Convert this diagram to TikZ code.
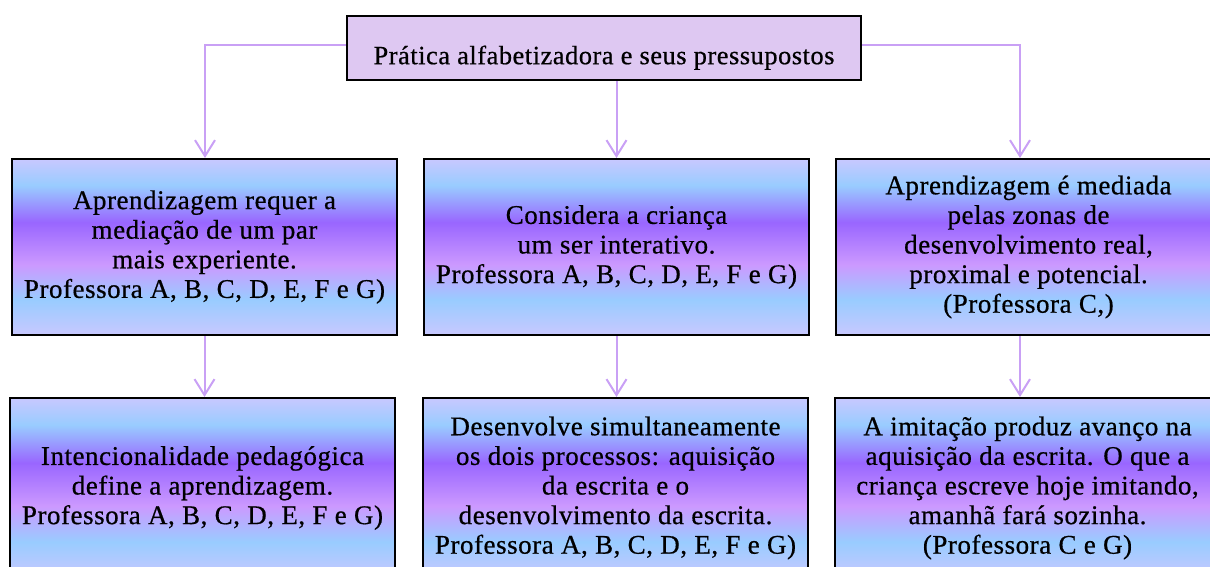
\documentclass[tikz,border=0pt]{standalone}
\usepackage{fontspec}
\setmainfont{Liberation Serif}[LetterSpace=2,FakeBold=0.6]
\usetikzlibrary{arrows.meta}
\definecolor{boxlav}{RGB}{200,200,255}
\definecolor{boxsky}{RGB}{153,204,255}
\definecolor{boxpurple}{RGB}{153,102,255}
\definecolor{boxviolet}{RGB}{204,153,255}
\definecolor{linkcol}{RGB}{201,160,245}
\definecolor{titlefill}{RGB}{222,200,242}
\pgfdeclareverticalshading{boxgrad}{100bp}{color(0bp)=(boxlav); color(25bp)=(boxlav); color(35bp)=(boxsky); color(45bp)=(boxviolet); color(57bp)=(boxpurple); color(67.5bp)=(boxsky); color(75bp)=(boxlav); color(100bp)=(boxlav)}
\begin{document}
\begin{tikzpicture}[x=0.5pt,y=-0.5pt,
      idea/.style={draw,line width=1pt,shading=boxgrad,minimum width=192.5pt,minimum height=88pt,
        align=center,inner sep=0pt,font=\fontsize{13.5}{14.8}\selectfont},
      idealow/.style={idea,minimum height=90pt},
      link/.style={draw=linkcol,line width=1pt,-{Straight Barb[length=8pt,width=10pt]}},
      ]
      \clip (0,0) rectangle (1210,567);
      
      \node[draw,line width=1.2pt,fill=titlefill,minimum width=257pt,inner sep=0pt,
        text height=24pt,text depth=8pt,anchor=north,font=\fontsize{13.2}{14}\selectfont]
        (title) at (604,15) {Prática alfabetizadora e seus pressupostos};
      
      \node[idea] (a1) at (204.5,247) {Aprendizagem requer a\\mediação de um par\\mais experiente.\\Professora A, B, C, D, E, F e G)};
      \node[idea] (b1) at (616.5,247) {Considera a criança\\um ser interativo.\\Professora A, B, C, D, E, F e G)};
      \node[idea] (c1) at (1028.5,247) {Aprendizagem é mediada\\pelas zonas de\\desenvolvimento real,\\proximal e potencial.\\(Professora C,)};
      
      \node[idealow] (a2) at (202.5,488) {Intencionalidade pedagógica\\define a aprendizagem.\\Professora A, B, C, D, E, F e G)};
      \node[idealow] (b2) at (615.5,488) {Desenvolve simultaneamente\\os dois processos: aquisição\\da escrita e o\\desenvolvimento da escrita.\\Professora A, B, C, D, E, F e G)};
      \node[idealow] (c2) at (1027.5,488) {A imitação produz avanço na\\aquisição da escrita. O que a\\criança escreve hoje imitando,\\amanhã fará sozinha.\\(Professora C e G)};
      
      \coordinate (hl) at (205,45);
      \coordinate (hr) at (1020,45);
      
      \draw[link] (hl -| title.west) -- (hl) -- (hl |- a1.north);
      \draw[link] (hr -| title.east) -- (hr) -- (hr |- c1.north);
      \draw[link] (title.south -| b1.north) -- (b1.north);
      
      \draw[link] (a1.south) -- (a1.south |- a2.north);
      \draw[link] (b1.south) -- (b1.south |- b2.north);
      \draw[link] (hr |- c1.south) -- (hr |- c2.north);
\end{tikzpicture}
\end{document}
